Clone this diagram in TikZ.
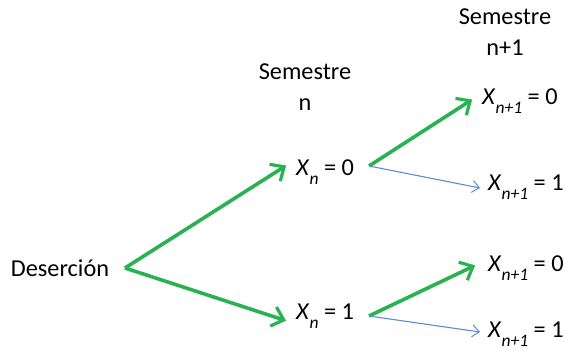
\documentclass[tikz,border=0pt]{standalone}
\usepackage{fontspec}
\setmainfont{Carlito}
\usetikzlibrary{arrows.meta}
\definecolor{grn}{RGB}{40,178,80}
\definecolor{blu}{RGB}{91,141,214}
\newcommand{\Xs}[1]{\textit{X}\raisebox{-0.35em}{\fontsize{17.5}{17.5}\selectfont\textit{#1}}}
\tikzset{
  lbl/.style={inner sep=0pt, font=\fontsize{24.3}{29}\selectfont, align=center},
  garr/.style={draw=grn, line width=3.6pt, -{Straight Barb[length=11pt,width=20pt,line width=3.2pt]}, shorten >=1pt},
  barr/.style={draw=blu, line width=1.1pt, -{Straight Barb[length=7pt,width=12pt,line width=1pt]}}
}
\begin{document}
\begin{tikzpicture}[x=1pt,y=-1pt]
\useasboundingbox (0,0) rectangle (565,350);
\node[lbl] (des) at (60,268) {Deserción};
\node[lbl] (sn) at (305,87) {Semestre\\[2pt]n};
\node[lbl] (sn1) at (505,32) {Semestre\\[2pt]n+1};
\node[lbl, anchor=west] (x0) at (296,172) {\Xs{n} = 0};
\node[lbl, anchor=west] (x1) at (296,316) {\Xs{n} = 1};
\node[lbl, anchor=west] (x00) at (482,101) {\Xs{n+1} = 0};
\node[lbl, anchor=west] (x01) at (488,187) {\Xs{n+1} = 1};
\node[lbl, anchor=west] (x10) at (488,268) {\Xs{n+1} = 0};
\node[lbl, anchor=west] (x11) at (488,334) {\Xs{n+1} = 1};
\coordinate (s0) at (125,268);
\coordinate (t0) at (287,165);
\coordinate (t1) at (287,321);
\coordinate (s1) at (369,166);
\coordinate (s2) at (369,316);
\coordinate (t00) at (473,99);
\coordinate (t01) at (480,188);
\coordinate (t10) at (476,265);
\coordinate (t11) at (480,332);
\draw[garr] (s0) -- (t0);
\draw[garr] (s0) -- (t1);
\draw[garr] (s1) -- (t00);
\draw[barr] (s1) -- (t01);
\draw[garr] (s2) -- (t10);
\draw[barr] (s2) -- (t11);
\end{tikzpicture}
\end{document}
